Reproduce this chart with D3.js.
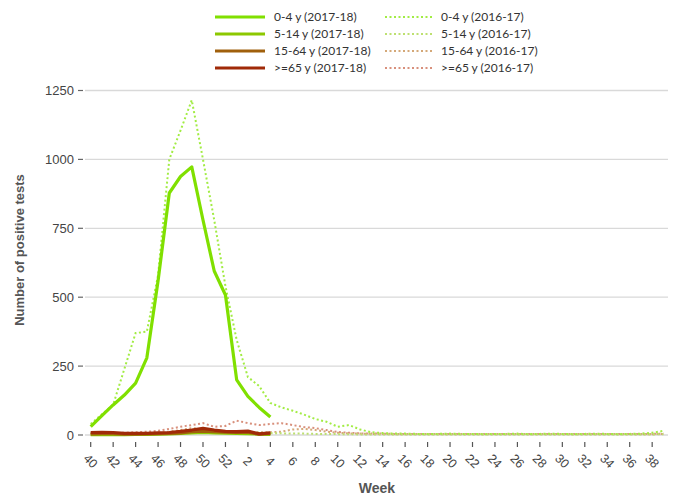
<!DOCTYPE html>
<html>
<head>
<meta charset="utf-8">
<script src="https://cdn.jsdelivr.net/npm/d3@7"></script>
<style>
  html, body { margin: 0; padding: 0; background: #fff; }
  svg { display: block; }
</style>
</head>
<body>
<svg id="chart" width="676" height="495"></svg>
<script>
// ---- data ----
const weeks = [40,41,42,43,44,45,46,47,48,49,50,51,52,1,2,3,4,5,6,7,8,9,10,11,12,13,14,15,16,17,18,19,20,21,22,23,24,25,26,27,28,29,30,31,32,33,34,35,36,37,38,39];
const xTickLabels = [40,42,44,46,48,50,52,2,4,6,8,10,12,14,16,18,20,22,24,26,28,30,32,34,36,38];
const yTicks = [0,250,500,750,1000,1250];

// 2017-18 season (weeks 40 .. 4)
const age0_4_1718   = [30,70,109,145,188,280,560,878,938,973,780,595,508,200,140,100,65];
const age5_14_1718  = [1,1,1,1,2,2,3,4,6,8,9,8,7,6,5,3,2];
const age15_64_1718 = [4,5,5,3,3,4,5,6,8,12,14,12,10,9,10,3,6];
const age65_1718    = [9,10,9,6,6,6,8,9,13,18,24,18,13,12,14,4,8];

// 2016-17 season (weeks 40 .. 39)
const age0_4_1617   = [40,75,110,240,370,375,580,1000,1105,1215,1000,780,540,345,210,178,116,100,88,74,58,48,30,36,20,10,7,5,5,4,4,4,5,4,4,3,4,4,5,3,4,5,4,3,4,5,4,3,4,5,8,15];
const age5_14_1617  = [1,1,2,2,3,3,4,6,8,10,12,12,10,10,9,8,7,6,5,5,4,4,3,3,2,2,2,2,2,2,2,2,2,2,2,2,2,2,2,2,2,2,2,2,2,2,2,2,2,2,2,3];
const age15_64_1617 = [3,3,4,4,5,6,8,12,18,25,20,12,8,8,9,10,10,12,20,22,18,12,8,6,5,4,4,3,3,3,3,3,3,3,3,3,3,3,3,3,3,3,3,3,3,3,3,3,3,3,3,4];
const age65_1617    = [5,6,7,8,10,12,15,22,30,36,43,30,33,52,43,36,40,43,36,29,25,18,11,8,6,5,5,4,4,4,4,4,4,4,4,4,4,4,4,4,4,4,4,4,4,4,4,4,4,4,4,5];

const seriesNames = ["0-4 y (2017-18)","5-14 y (2017-18)","15-64 y (2017-18)",">=65 y (2017-18)",
                     "0-4 y (2016-17)","5-14 y (2016-17)","15-64 y (2016-17)",">=65 y (2016-17)"];

// ---- styles ----
const solidColors  = ["#80e000","#8cc800","#a0600c","#a02a08"];
const dottedColors = ["#a2ec44","#bde070","#d4a878","#d8907c"];

const svg = d3.select("#chart");
const x = d3.scaleLinear().domain([0, 51]).range([90.7, 663.4]);
const y = d3.scaleLinear().domain([0, 1250]).range([435, 90.5]);

// gridlines
svg.append("g").selectAll("line").data(yTicks).join("line")
  .attr("x1", 85).attr("x2", 668)
  .attr("y1", d => y(d)).attr("y2", d => y(d))
  .attr("stroke", "#d9d9d9").attr("stroke-width", 1.3);

// y ticks
svg.append("g").selectAll("line").data(yTicks).join("line")
  .attr("x1", 78).attr("x2", 83)
  .attr("y1", d => y(d)).attr("y2", d => y(d))
  .attr("stroke", "#666").attr("stroke-width", 1.2);
svg.append("g").selectAll("text").data(yTicks).join("text")
  .attr("x", 74).attr("y", d => y(d)).attr("dy", "0.35em")
  .attr("text-anchor", "end")
  .style("font-family", "'Liberation Sans', Arial, sans-serif")
  .style("font-size", "13px").attr("fill", "#444")
  .text(d => d);

// x ticks
const xTickIdx = xTickLabels.map(w => weeks.indexOf(w));
svg.append("g").selectAll("line").data(xTickIdx).join("line")
  .attr("x1", d => x(d)).attr("x2", d => x(d))
  .attr("y1", 442).attr("y2", 447)
  .attr("stroke", "#555").attr("stroke-width", 1.2);
svg.append("g").selectAll("text").data(xTickLabels).join("text")
  .attr("transform", (d, i) => `translate(${x(xTickIdx[i])},${461}) rotate(45)`)
  .attr("text-anchor", "middle").attr("dy", "0.35em")
  .style("font-family", "'Liberation Sans', Arial, sans-serif")
  .style("font-size", "12.5px").attr("fill", "#444")
  .text(d => d);

// axis titles
svg.append("text")
  .attr("transform", "translate(24,250) rotate(-90)")
  .attr("text-anchor", "middle")
  .style("font-family", "'Liberation Sans', Arial, sans-serif")
  .style("font-size", "13px").style("font-weight", "bold").attr("fill", "#555")
  .text("Number of positive tests");
svg.append("text")
  .attr("x", 377).attr("y", 493)
  .attr("text-anchor", "middle")
  .style("font-family", "'Liberation Sans', Arial, sans-serif")
  .style("font-size", "14px").style("font-weight", "bold").attr("fill", "#555")
  .text("Week");

// lines
const line = d3.line().x((d, i) => x(i)).y(d => y(d));
const dotted = [age0_4_1617, age5_14_1617, age15_64_1617, age65_1617];
const solid = [age0_4_1718, age5_14_1718, age15_64_1718, age65_1718];

const gl = svg.append("g");
[3,2,1,0].forEach(k => {
  gl.append("path").datum(dotted[k]).attr("d", line)
    .attr("fill", "none").attr("stroke", dottedColors[k])
    .attr("stroke-width", 2).attr("stroke-dasharray", "2,2.5");
});
[0,1,2,3].forEach(k => {
  gl.append("path").datum(solid[k]).attr("d", line)
    .attr("fill", "none").attr("stroke", solidColors[k])
    .attr("stroke-width", 3.2).attr("stroke-linejoin", "round");
});

// legend
const legend = svg.append("g");
const rowsY = [17, 34, 51, 68];
seriesNames.forEach((name, i) => {
  const col = i < 4 ? 0 : 1;
  const r = i % 4;
  const lx1 = col === 0 ? 215 : 385;
  const lx2 = col === 0 ? 265 : 432;
  const tx = col === 0 ? 274 : 441;
  legend.append("line")
    .attr("x1", lx1).attr("x2", lx2).attr("y1", rowsY[r]).attr("y2", rowsY[r])
    .attr("stroke", col === 0 ? solidColors[r] : dottedColors[r])
    .attr("stroke-width", col === 0 ? 3.2 : 2)
    .attr("stroke-dasharray", col === 0 ? null : "2,2.5");
  legend.append("text")
    .attr("x", tx).attr("y", rowsY[r]).attr("dy", "0.35em")
    .style("font-family", "Lato, 'Open Sans', sans-serif")
    .style("font-size", "12px").attr("fill", "#333")
    .text(name);
});
</script>
</body>
</html>
